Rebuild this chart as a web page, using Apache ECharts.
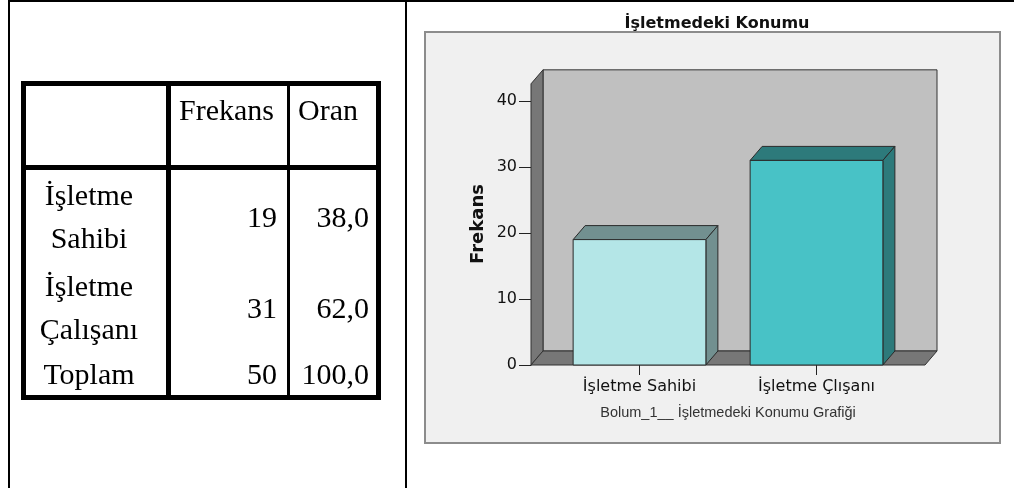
<!DOCTYPE html>
<html>
<head>
<meta charset="utf-8">
<script src="https://cdn.jsdelivr.net/npm/echarts@6/dist/echarts.min.js"></script>
<style>
  body { margin: 0; background: #fff; }
  #main { position: absolute; left: 0; top: 0; width: 1014px; height: 488px; }
  .rule { position: absolute; background: #000; }
  table.freq {
    position: absolute; left: 21px; top: 81px; width: 360px;
    border-collapse: separate; border-spacing: 0; table-layout: fixed;
    border: 5px solid #000; box-sizing: border-box;
    font-family: "Liberation Serif", serif; font-size: 30px; line-height: 43px; color: #000;
  }
  table.freq td { box-sizing: border-box; padding: 0; white-space: nowrap; vertical-align: middle; }
  table.freq td.c1 { width: 145px; border-right: 5px solid #000; text-align: center; padding-right: 14px; }
  table.freq td.c2 { width: 119px; border-right: 3px solid #000; text-align: right; padding-right: 10px; }
  table.freq td.c3 { width: 86px; text-align: right; padding-right: 7px; }
  table.freq tr.head td { height: 84px; border-bottom: 5px solid #000; vertical-align: top; padding-top: 2px; text-align: left; padding-left: 8px; }
</style>
</head>
<body>
<div id="main"></div>
<div class="rule" style="left:8px;top:0;width:1006px;height:2px"></div>
<div class="rule" style="left:8px;top:0;width:2px;height:488px"></div>
<div class="rule" style="left:405px;top:0;width:2px;height:488px"></div>
<table class="freq" id="freq"></table>
<script>
// tablo verileri
const tableHeads = ["Frekans", "Oran"];
const rowLabels = ["İşletme<br>Sahibi", "İşletme<br>Çalışanı", "Toplam"];
const rowCounts = [19, 31, 50];
const rowRates = ["38,0", "62,0", "100,0"];
const rowHeights = [92, 90, 43];

// grafik verileri
const categories = ["İşletme Sahibi", "İşletme Çlışanı"];
const frekans = [19, 31];
const yMin = 0, yMax = 40, yStep = 10;

// tabloyu kur
var tbl = document.getElementById("freq");
var html = '<tr class="head"><td class="c1"></td><td class="c2">' + tableHeads[0] +
  '</td><td class="c3">' + tableHeads[1] + "</td></tr>";
rowLabels.forEach(function (lab, i) {
  html += '<tr style="height:' + rowHeights[i] + 'px"><td class="c1">' + lab +
    '</td><td class="c2">' + rowCounts[i] + '</td><td class="c3">' + rowRates[i] + "</td></tr>";
});
tbl.innerHTML = html;

// 3B gorunum icin derinlik
var DX = 12, DY = -14;
var barColors = [
  { front: "#b4e6e7", dark: "#729090" },
  { front: "#48c2c6", dark: "#2d7a7b" },
];

var chartDom = document.getElementById("main");
var myChart = echarts.init(chartDom, null, { renderer: "canvas" });

var option = {
  animation: false,
  title: {
    text: "İşletmedeki Konumu",
    left: 712,
    top: 11,
    textAlign: "center",
    textStyle: { fontFamily: "DejaVu Sans", fontSize: 16, fontWeight: "bold", color: "#111" },
  },
  graphic: [
    {
      type: "rect",
      z: -1,
      shape: { x: 425, y: 32, width: 575, height: 411 },
      style: { fill: "#f0f0f0", stroke: "#8c8c8c", lineWidth: 2 },
    },
  ],
  grid: { left: 551, right: 109, top: 101, bottom: 123 },
  xAxis: {
    type: "category",
    data: categories,
    axisLine: { show: false },
    axisTick: { show: true, alignWithLabel: true, length: 10, lineStyle: { color: "#222" } },
    axisLabel: { margin: 14, fontFamily: "DejaVu Sans", fontSize: 16, color: "#111" },
    name: "Bolum_1__ İşletmedeki Konumu Grafiği",
    nameLocation: "middle",
    nameGap: 40,
    nameTextStyle: { fontFamily: "Liberation Sans", fontSize: 14.5, color: "#333" },
  },
  yAxis: {
    type: "value",
    min: yMin,
    max: yMax,
    interval: yStep,
    offset: 20,
    axisLine: { show: true, lineStyle: { color: "#222" } },
    axisTick: { show: true, length: 12, lineStyle: { color: "#222" } },
    axisLabel: { margin: 14, fontFamily: "DejaVu Sans", fontSize: 16, color: "#111" },
    splitLine: { show: false },
    name: "Frekans",
    nameLocation: "middle",
    nameGap: 44,
    nameTextStyle: { fontFamily: "DejaVu Sans", fontSize: 18, fontWeight: "bold", color: "#111", padding: [0, 0, 0, 18] },
  },
  series: [
    {
      // duvarlar ve zemin
      type: "custom",
      silent: true,
      data: [[0, 0]],
      renderItem: function (params, api) {
        var cs = params.coordSys;
        var x0 = cs.x - 20, x1 = cs.x + cs.width + 20;
        var yB = api.coord([0, 0])[1];
        var yT = api.coord([0, 42.6])[1];
        var edge = { stroke: "#333", lineWidth: 1 };
        return {
          type: "group",
          children: [
            {
              type: "rect",
              shape: { x: x0 + DX, y: yT + DY, width: x1 - x0, height: yB - yT },
              style: Object.assign({ fill: "#c0c0c0" }, edge),
            },
            {
              type: "polygon",
              shape: { points: [[x0, yT], [x0 + DX, yT + DY], [x0 + DX, yB + DY], [x0, yB]] },
              style: Object.assign({ fill: "#777777" }, edge),
            },
            {
              type: "polygon",
              shape: { points: [[x0, yB], [x0 + DX, yB + DY], [x1 + DX, yB + DY], [x1, yB]] },
              style: Object.assign({ fill: "#777777" }, edge),
            },
          ],
        };
      },
    },
    {
      // 3B cubuklar
      type: "custom",
      data: frekans.map(function (v, i) { return [i, v]; }),
      renderItem: function (params, api) {
        var i = api.value(0), v = api.value(1);
        var top = api.coord([i, v]);
        var base = api.coord([i, 0]);
        var w = api.size([1, 0])[0] * 0.75;
        var x0 = top[0] - w / 2, x1 = top[0] + w / 2, yT = top[1], yB = base[1];
        var c = barColors[params.dataIndex];
        var edge = { stroke: "#2a2a2a", lineWidth: 1 };
        return {
          type: "group",
          children: [
            {
              type: "polygon",
              shape: { points: [[x0, yT], [x0 + DX, yT + DY], [x1 + DX, yT + DY], [x1, yT]] },
              style: Object.assign({ fill: c.dark }, edge),
            },
            {
              type: "polygon",
              shape: { points: [[x1, yT], [x1 + DX, yT + DY], [x1 + DX, yB + DY], [x1, yB]] },
              style: Object.assign({ fill: c.dark }, edge),
            },
            {
              type: "rect",
              shape: { x: x0, y: yT, width: w, height: yB - yT },
              style: Object.assign({ fill: c.front }, edge),
            },
          ],
        };
      },
    },
  ],
};

myChart.setOption(option);
</script>
</body>
</html>
